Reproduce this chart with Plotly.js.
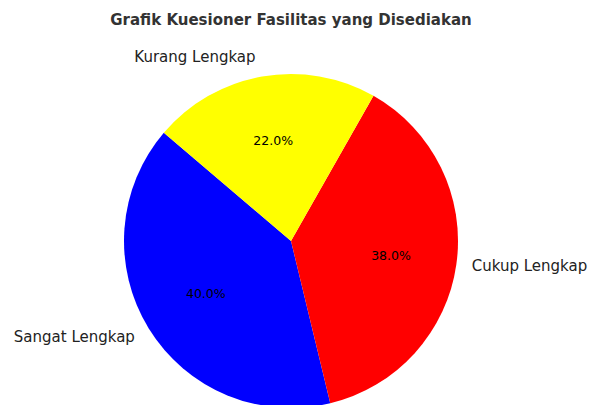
<!DOCTYPE html>
<html>
<head>
<meta charset="utf-8">
<script src="https://cdn.plot.ly/plotly-3.0.1.min.js"></script>
<style>
html, body { margin: 0; padding: 0; overflow: hidden; background: #fff; }
#chart { width: 596px; height: 440px; }
</style>
</head>
<body>
<div id="chart"></div>
<script>
const categories = ['Sangat Lengkap', 'Cukup Lengkap', 'Kurang Lengkap'];
const values = [40, 38, 22];
const colors = ['#0000ff', '#ff0000', '#ffff00'];
const chartTitle = 'Grafik Kuesioner Fasilitas yang Disediakan';

const W = 596, H = 440;
const CX = 291, CY = 241, R = 167;
function domainFor(r) {
  return { x: [(CX - r) / W, (CX + r) / W], y: [(H - CY - r) / H, (H - CY + r) / H] };
}
const rot = 166.4;
const clear = ['rgba(0,0,0,0)', 'rgba(0,0,0,0)', 'rgba(0,0,0,0)'];
const pct = '%{percent:.1%}';

const base = {
  type: 'pie',
  labels: categories,
  values: values,
  sort: false,
  direction: 'counterclockwise',
  rotation: rot,
  showlegend: false,
  hoverinfo: 'skip',
  insidetextorientation: 'horizontal'
};

const slices = Object.assign({}, base, {
  marker: { colors: colors, line: { width: 0 } },
  texttemplate: ['', '', pct],
  textposition: 'inside',
  textfont: { family: 'DejaVu Sans', size: 12.5, color: '#000' },
  domain: domainFor(R)
});

const pctTrace = Object.assign({}, base, {
  marker: { colors: clear, line: { width: 0 } },
  texttemplate: [pct, pct, ''],
  textposition: 'inside',
  textfont: { family: 'DejaVu Sans', size: 12.5, color: '#000' },
  domain: domainFor(195)
});

const labelsTrace = Object.assign({}, base, {
  marker: { colors: clear, line: { width: 0 } },
  texttemplate: '%{label}',
  textposition: 'outside',
  outsidetextfont: { family: 'DejaVu Sans', size: 15, color: '#222' },
  domain: domainFor(178)
});

const layout = {
  width: W,
  height: H,
  margin: { l: 0, r: 0, t: 0, b: 0 },
  paper_bgcolor: '#fff',
  title: {
    text: '<b>' + chartTitle + '</b>',
    font: { family: 'DejaVu Sans', size: 15, color: '#333' },
    x: CX / W, xanchor: 'center',
    y: 1 - 20 / H, yanchor: 'middle', yref: 'container'
  }
};

Plotly.newPlot('chart', [slices, pctTrace, labelsTrace], layout, { displayModeBar: false, staticPlot: true });
</script>
</body>
</html>
